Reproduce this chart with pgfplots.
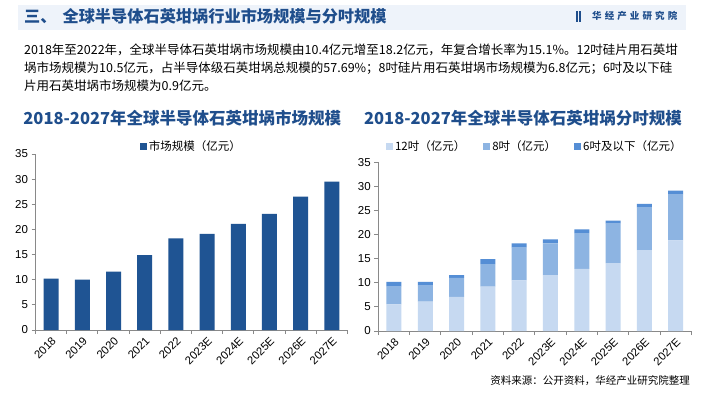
\documentclass[border=0pt]{standalone}
\usepackage{fontspec}
\setmainfont{Noto Sans CJK SC}
\newfontfamily\arial{Liberation Sans}
\usepackage{pgfplots}
\pgfplotsset{compat=1.18}
\definecolor{tblue}{HTML}{1F4E8C}
\definecolor{dblue}{HTML}{1F5493}
\definecolor{cA}{HTML}{C6D9F1}
\definecolor{cB}{HTML}{8DB4E2}
\definecolor{cC}{HTML}{558ED5}
\definecolor{hbg}{HTML}{EEF3FA}
\definecolor{axgray}{HTML}{898989}
\newcommand{\logochar}[1]{\makebox[12.6pt][l]{#1}}
\pgfplotsset{
  sq/.style={legend image code/.code={\fill[##1] (-1.5pt,-3.5pt) rectangle (5.5pt,3.5pt);}},
  common/.style={
    scale only axis,
    xmin=-0.5, xmax=9.5, ymin=0, ymax=35,
    ytick={0,5,...,35},
    xtick={0,...,9},
    xticklabels={2018,2019,2020,2021,2022,2023E,2024E,2025E,2026E,2027E},
    minor xtick={-0.5,0.5,...,9.5},
    major x tick style={draw=none},
    axis x line*=bottom, axis y line*=left,
    axis line style={draw=axgray, line width=1pt},
    tick style={draw=axgray, line width=1pt},
    tick align=outside,
    major tick length=4pt, minor tick length=4pt,
    /pgf/number format/assume math mode=true,
    yticklabel style={font=\arial\fontsize{11.5}{12}\selectfont, text=black},
    xticklabel style={font=\arial\fontsize{11.3}{12}\selectfont, text=black, rotate=45, anchor=north east, inner sep=1.5pt},
    bar width=15pt,
  }
}
\begin{document}
\begin{tikzpicture}
\path[use as bounding box] (0pt,0pt) rectangle (705pt,392pt);
\fill[white] (0pt,0pt) rectangle (705pt,392pt);
% header band
\fill[hbg] (18pt,362pt) rectangle (686pt,387pt);
\node[anchor=base west, font=\fontsize{16.2}{16.2}\selectfont\bfseries, text=tblue, inner sep=0] at (24pt,369.2pt) {三、\hspace{6pt}全球半导体石英坩埚行业市场规模与分吋规模};
% logo
\fill[tblue] (576pt,370pt) rectangle (578.2pt,381pt);
\fill[tblue] (579pt,370pt) rectangle (581.2pt,381pt);
\node[anchor=west, font=\fontsize{9.5}{10}\selectfont\bfseries, text=tblue, inner sep=0] at (592pt,376pt) {\logochar{华}\logochar{经}\logochar{产}\logochar{业}\logochar{研}\logochar{究}\logochar{院}};
% paragraph
\begin{scope}[every node/.style={anchor=base west, inner sep=0, font=\fontsize{12.5}{13}\selectfont, text=black}]
\node at (24pt,337.6pt) {2018年至2022年，全球半导体石英坩埚市场规模由10.4亿元增至18.2亿元，年复合增长率为15.1\%。12吋硅片用石英坩};
\node at (24pt,319.9pt) {埚市场规模为10.5亿元，占半导体级石英坩埚总规模的57.69\%；8吋硅片用石英坩埚市场规模为6.8亿元；6吋及以下硅};
\node at (24pt,301.9pt) {片用石英坩埚市场规模为0.9亿元。};
\end{scope}
% chart titles
\node[anchor=base, font=\fontsize{16.5}{17}\selectfont\bfseries, text=tblue, inner sep=0] at (182.3pt,267.7pt) {2018-2027年全球半导体石英坩埚市场规模};
\node[anchor=base, font=\fontsize{16.5}{17}\selectfont\bfseries, text=tblue, inner sep=0] at (523pt,267.7pt) {2018-2027年全球半导体石英坩埚分吋规模};
% left chart
\begin{axis}[common,
  at={(35.5pt,62pt)}, anchor=south west,
  width=312pt, height=176pt,
  ybar,
  legend style={at={(0.5,1.041)}, anchor=center, draw=none, fill=none, font=\fontsize{11.5}{12}\selectfont},
]
\addplot[fill=dblue, draw=none, sq] coordinates {(0,10.2) (1,10.0) (2,11.6) (3,14.9) (4,18.2) (5,19.1) (6,21.1) (7,23.1) (8,26.5) (9,29.5)};
\addlegendentry{市场规模（亿元）}
\end{axis}
% right chart
\begin{axis}[common,
  at={(378.3pt,61pt)}, anchor=south west,
  width=313pt, height=168.7pt,
  ybar stacked,
  legend columns=3,
  legend style={at={(0.5,1.092)}, anchor=center, draw=none, fill=none, font=\fontsize{11.5}{12}\selectfont, /tikz/every even column/.append style={column sep=16pt}},
]
\addplot[fill=cA, draw=none, sq] coordinates {(0,5.5) (1,6.1) (2,7.1) (3,9.2) (4,10.5) (5,11.6) (6,12.9) (7,14.1) (8,16.8) (9,18.8)};
\addlegendentry{12吋（亿元）}
\addplot[fill=cB, draw=none, sq] coordinates {(0,3.7) (1,3.3) (2,3.9) (3,4.7) (4,6.8) (5,6.6) (6,7.4) (7,8.2) (8,8.8) (9,9.5)};
\addlegendentry{8吋（亿元）}
\addplot[fill=cC, draw=none, sq] coordinates {(0,1.0) (1,0.8) (2,0.6) (3,1.0) (4,0.9) (5,0.8) (6,0.8) (7,0.6) (8,0.8) (9,0.8)};
\addlegendentry{6吋及以下（亿元）}
\end{axis}
% source
\node[anchor=base east, font=\fontsize{10.5}{11}\selectfont, text=black, inner sep=0] at (690pt,7.2pt) {资料来源：公开资料，华经产业研究院整理};
\end{tikzpicture}
\end{document}
